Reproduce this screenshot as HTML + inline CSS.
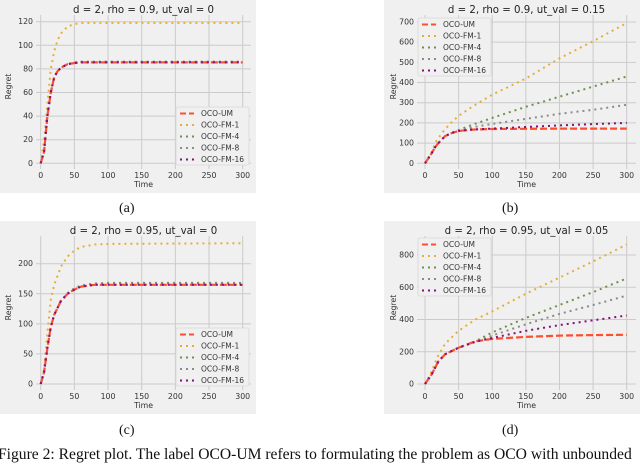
<!DOCTYPE html>
<html><head><meta charset="utf-8"><style>
body{margin:0;background:#fff;width:640px;height:456px;overflow:hidden;position:relative;font-family:"DejaVu Sans","Liberation Sans",sans-serif}
svg{position:absolute;left:0;top:0}
.cap{position:absolute;font-family:"Liberation Serif",serif;font-size:14px;color:#111}
</style></head><body>
<svg id="fig" width="640" height="456"></svg>
<div class="cap" style="left:119px;top:201px">(a)</div>
<div class="cap" style="left:502px;top:201px">(b)</div>
<div class="cap" style="left:119px;top:423px">(c)</div>
<div class="cap" style="left:502px;top:423px">(d)</div>
<div class="cap" style="left:-2px;top:446px;white-space:nowrap;font-size:15.6px">Figure 2: Regret plot. The label OCO-UM refers to formulating the problem as OCO with unbounded</div>
<script>
const seriesNames=["OCO-UM","OCO-FM-1","OCO-FM-4","OCO-FM-8","OCO-FM-16"];
const seriesColors=["#fc4f30","#e5ae38","#6d904f","#8b8b8b","#810f7c"];
const titles=["d = 2, rho = 0.9, ut_val = 0","d = 2, rho = 0.9, ut_val = 0.15","d = 2, rho = 0.95, ut_val = 0","d = 2, rho = 0.95, ut_val = 0.05"];
const xTicks=[0,50,100,150,200,250,300];
const yTicksA=[0,20,40,60,80,100,120];
const yTicksB=[0,100,200,300,400,500,600,700];
const yTicksC=[0,50,100,150,200];
const yTicksD=[0,200,400,600,800];
const tA=[0,5,10,15,20,25,30,40,50,60,80,300];
const aUM=[0,10,40,60,73,78,81,84,85,85.5,85.5,85.5];
const aF1=[0,20,50,80,95,104,110,116,118,119,119,119];
const aF4=[0,10,40,60,73,78,81,84,85.5,86,86,86];
const aF8=[0,10,40,60,73,78,81,84,85.5,86,86,86];
const aF16=[0,10,40,60,73,78,81,84,85,85.5,85.5,85.5];
const tB=[0,10,15,20,30,40,50,70,100,150,200,250,300];
const bUM=[0,50,80,100,135,150,160,167,170,171,172,172,172];
const bF1=[0,55,100,125,170,205,235,280,340,420,520,605,695];
const bF4=[0,50,80,100,135,152,165,190,225,280,330,380,430];
const bF8=[0,50,80,100,135,150,162,178,195,220,245,265,290];
const bF16=[0,50,80,100,135,150,160,167,172,180,188,194,200];
const tC=[0,5,10,15,20,30,40,50,60,80,100,300];
const cUM=[0,20,60,95,115,138,150,157,162,165,165,165];
const cF1=[0,25,85,140,165,195,212,222,228,232,233,234];
const cF4=[0,20,60,95,115,138,151,159,164,167,168,168];
const cF8=[0,20,60,95,115,138,151,159,164,167,167,167];
const cF16=[0,20,60,95,115,138,150,157,162,165,165,165];
const tD=[0,10,20,30,50,75,100,150,200,250,300];
const dUM=[0,60,140,185,225,265,280,292,300,303,305];
const dF1=[0,80,180,250,330,400,450,560,660,760,865];
const dF4=[0,60,140,185,225,265,320,410,490,570,655];
const dF8=[0,60,140,185,225,262,300,370,435,490,548];
const dF16=[0,60,140,185,225,262,285,330,365,395,425];

const NS="http://www.w3.org/2000/svg";
const svg=document.getElementById('fig');
function mk(tag,attrs,parent){const e=document.createElementNS(NS,tag);for(const k in attrs)e.setAttribute(k,attrs[k]);(parent||svg).appendChild(e);return e;}
const panels=[
 {id:'a',bg:[0,0,256,193],plot:[36,15,251,169],x0:40.7,x1:242.7,y0:163.3,yTop:21.7,yMax:120,yt:yTicksA,t:tA,s:[aUM,aF1,aF4,aF8,aF16],leg:[176,107],ylabX:6},
 {id:'b',bg:[384,0,640,193],plot:[417,15,636,169],x0:425,x1:626.7,y0:163.3,yTop:22,yMax:700,yt:yTicksB,t:tB,s:[bUM,bF1,bF4,bF8,bF16],leg:[418,18],ylabX:391},
 {id:'c',bg:[0,221,256,414],plot:[36,236,251,390],x0:40.7,x1:242.7,y0:384,yTop:263.7,yMax:200,yt:yTicksC,t:tC,s:[cUM,cF1,cF4,cF8,cF16],leg:[176,328],ylabX:6},
 {id:'d',bg:[384,221,640,414],plot:[417,236,636,390],x0:425,x1:626.7,y0:384,yTop:255,yMax:800,yt:yTicksD,t:tD,s:[dUM,dF1,dF4,dF8,dF16],leg:[418,238],ylabX:391}
];
panels.forEach((p,pi)=>{
 const g=mk('g',{});
 
 
 const [bx0,by0,bx1,by1]=p.bg;
 mk('rect',{x:bx0,y:by0,width:bx1-bx0,height:by1-by0,fill:'#f0f0f0'},g);
 const X=v=>p.x0+(p.x1-p.x0)*v/300;
 const Y=v=>p.y0-(p.y0-p.yTop)*v/p.yMax;
 const [px0,py0,px1,py1]=p.plot;
 xTicks.forEach(v=>{
  mk('line',{x1:X(v),x2:X(v),y1:py0,y2:py1,stroke:'#cbcbcb','stroke-width':1},g);
  const t=mk('text',{x:X(v),y:py1+9,'font-size':7.8,'text-anchor':'middle',fill:'#333'},g);t.textContent=v;
  
  
 });
 p.yt.forEach(v=>{
  mk('line',{x1:px0,x2:px1,y1:Y(v),y2:Y(v),stroke:'#cbcbcb','stroke-width':1},g);
  const t=mk('text',{x:px0-3,y:Y(v)+2.5,'font-size':7.8,'text-anchor':'end',fill:'#333'},g);t.textContent=v;
  
  
 });
 const ti=mk('text',{x:(px0+px1)/2,y:by0+13,'font-size':10.2,'text-anchor':'middle',fill:'#222'},g);ti.textContent=titles[pi];
 
 
 const xl=mk('text',{x:(px0+px1)/2,y:by1-6,'font-size':7.8,'text-anchor':'middle',fill:'#333'},g);xl.textContent='Time';
 
 
 const ym=(by0+by1)/2-10;
 const yl=mk('text',{x:p.ylabX+5,y:ym,'font-size':7.8,'text-anchor':'middle',fill:'#333',transform:`rotate(-90 ${p.ylabX+5} ${ym})`},g);yl.textContent='Regret';
 
 
 const order=[1,2,3,0,4];
 order.forEach(i=>{
  const pts=p.t.map((tv,k)=>X(tv).toFixed(1)+','+Y(p.s[i][k]).toFixed(1)).join(' ');
  const l=mk('polyline',{points:pts,fill:'none',stroke:seriesColors[i],'stroke-width':i==0?2.2:2,'stroke-dasharray':i==0?'7,3':'2,4'},g);
  
  
 });
 const [lx,ly]=p.leg;
 const lg=mk('g',{},g);
 
 
 mk('rect',{x:lx,y:ly,width:73,height:58,fill:'#f0f0f0',stroke:'#d8d8d8','stroke-width':0.8,rx:2},lg);
 seriesNames.forEach((n,i)=>{
  const yy=ly+6.5+i*11.5;
  mk('line',{x1:lx+4,x2:lx+18,y1:yy,y2:yy,stroke:seriesColors[i],'stroke-width':2,'stroke-dasharray':i==0?'6,3':'2,4'},lg);
  const t=mk('text',{x:lx+25,y:yy+2.6,'font-size':7.5,fill:'#333'},lg);t.textContent=n;
  
  
 });
});
</script>
</body></html>
